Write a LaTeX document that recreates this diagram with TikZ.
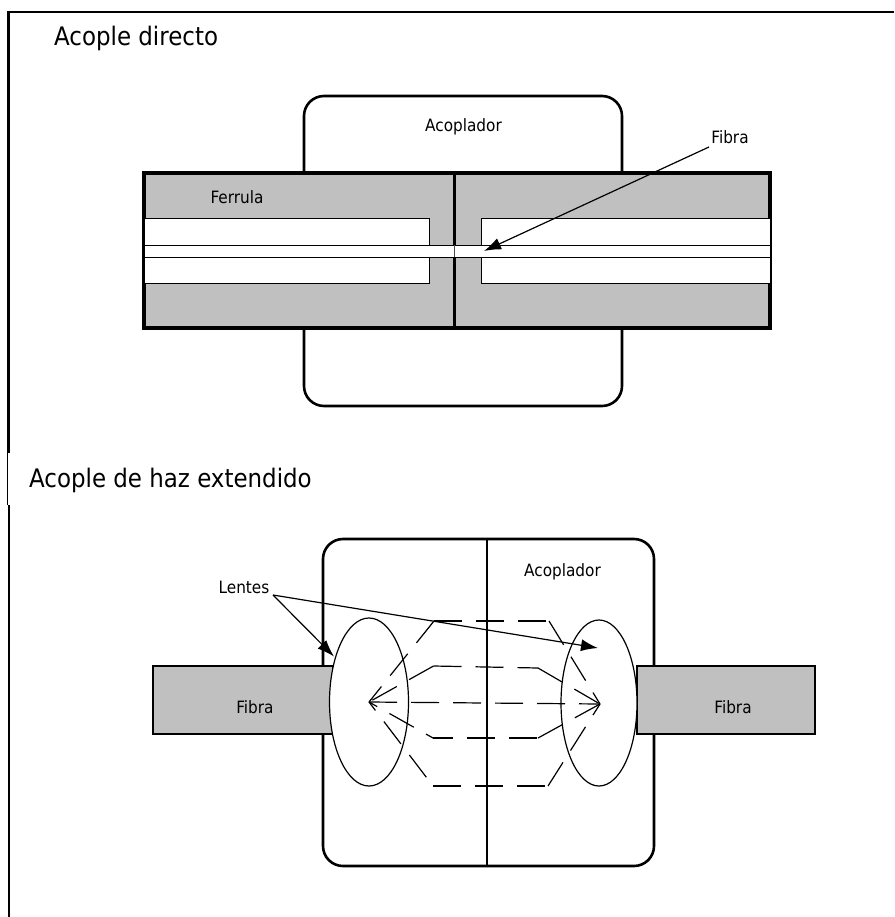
\documentclass[tikz,border=0pt]{standalone}
\usepackage{fontspec}
\setmainfont{DejaVu Sans Condensed}
\usetikzlibrary{arrows.meta,positioning,shapes.geometric}
\definecolor{ferrulegrey}{RGB}{192,192,192}
\tikzset{
  heavyline/.style={draw=black,line width=2.6pt,rounded corners=20pt},
  ferrule/.style={draw=black,line width=3.2pt,fill=ferrulegrey},
  bore/.style={draw=black,line width=1pt,fill=white},
  fibrebox/.style={draw=black,line width=1.2pt,fill=ferrulegrey},
  lens/.style={draw=black,line width=1.2pt,fill=white},
  ray/.style={draw=black,line width=1.2pt,dash pattern=on 28pt off 14pt},
  pointer/.style={-{Latex[length=17pt,width=12pt]},draw=black,line width=1.2pt},
  sectiontitle/.style={font=\fontsize{25.5}{30}\selectfont,anchor=west,inner sep=0pt},
  smalllabel/.style={font=\fontsize{17}{20}\selectfont,inner sep=0pt}
}
\begin{document}
\begin{tikzpicture}[x=1pt,y=-1pt]
  \useasboundingbox (0,0) rectangle (894,917);
  \draw[line width=2.4pt] (894,12) -- (8.6,12) -- (8.6,453);
  \draw[line width=1pt] (7.6,453) -- (7.6,505);
  \draw[line width=2pt] (8.6,505) -- (8.6,917);
  \node[sectiontitle] (directtitle) at (54,38) {Acople directo};
  \node[sectiontitle] (beamtitle) at (29,480) {Acople de haz extendido};

  \draw[heavyline] (304,96) rectangle (622,406);
  \draw[ferrule] (144,173) rectangle (770,328);
  \draw[bore] (144,219) rectangle (429,283);
  \draw[bore] (770,219) rectangle (481,283);
  \draw[line width=3pt] (454,173) -- (454,245);
  \draw[line width=3pt] (454,257) -- (454,328);
  \draw[bore] (144,245) rectangle (770,257);
  \draw[line width=.8pt,draw=black!70] (454,245) -- (454,257);
  \node[smalllabel] (couplerone) at (463.5,127) {Acoplador};
  \node[smalllabel] (ferrulelabel) at (237,197) {Ferrula};
  \node[smalllabel] (fibrelabel) at (730,137) {Fibra};
  \coordinate (fibrestart) at (709,147);
  \coordinate (fibreend) at (484,251);
  \draw[pointer] (fibrestart) -- (fibreend);

  \draw[heavyline] (323,539) rectangle (654,866);
  \draw[line width=1.5pt] (487,539) -- (487,866);
  \draw[fibrebox] (153,666) rectangle (333,734);
  \draw[fibrebox] (637,666) rectangle (815,734);
  \node[lens,ellipse,minimum width=79pt,minimum height=168pt,inner sep=0pt] (leftlens) at (369,702) {};
  \node[lens,ellipse,minimum width=76pt,minimum height=166pt,inner sep=0pt] (rightlens) at (599,703) {};
  \coordinate (leftfocus) at (369,702);
  \coordinate (rightfocus) at (600,704);
  \draw[ray] (leftfocus) -- (rightfocus);
  \foreach \xa/\ya/\xb/\yb/\pa/\pm in {434/621/549/621/0/0, 433.5/666/538/668/0/0,
                                       433/738/538/738/20/8, 433/786/548/786/31/0} {
    \draw[ray,dash phase=\pa] (\xa,\ya) -- (leftfocus);
    \draw[ray,dash phase=\pm] (\xa,\ya) -- (\xb,\yb);
    \draw[ray] (\xb,\yb) -- (rightfocus);
  }
  \node[smalllabel] (couplertwo) at (562.5,572) {Acoplador};
  \node[smalllabel] (lenslabel) at (244,587) {Lentes};
  \node[smalllabel] (leftfibre) at (255,707) {Fibra};
  \node[smalllabel] (rightfibre) at (733,707) {Fibra};
  \coordinate (lensfork) at (273,595);
  \coordinate (lefttip) at (334,656.5);
  \coordinate (righttip) at (598,648);
  \draw[pointer] (lensfork) -- (lefttip);
  \draw[pointer] (lensfork) -- (righttip);
\end{tikzpicture}
\end{document}
